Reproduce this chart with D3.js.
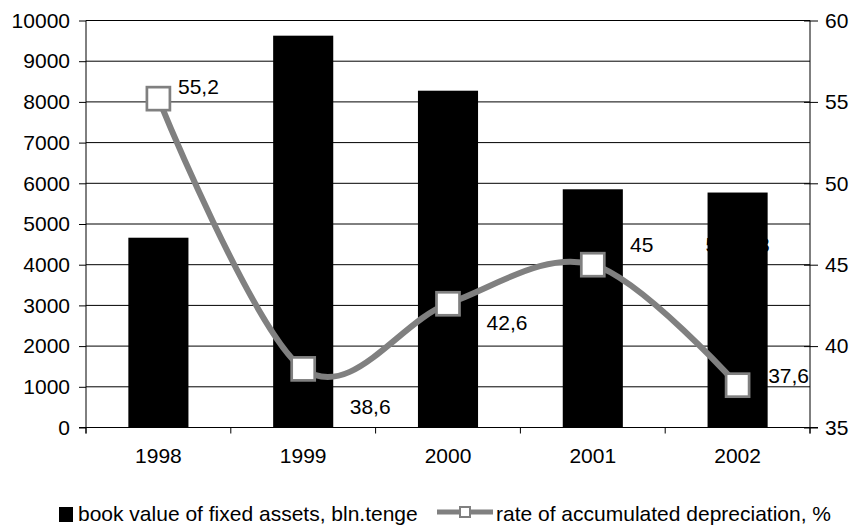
<!DOCTYPE html>
<html>
<head>
<meta charset="utf-8">
<script src="https://cdn.jsdelivr.net/npm/d3@7"></script>
<style>
  html, body { margin: 0; padding: 0; background: #fff; }
  svg text { font-family: "Liberation Sans", Arial, sans-serif; font-size: 21px; fill: #000; }
</style>
</head>
<body>
<svg id="chart" width="852" height="528"></svg>
<script>
// data
const years = ["1998", "1999", "2000", "2001", "2002"];
const bookValue = [4663, 9627, 8275, 5853, 5773];
const deprecRate = [55.2, 38.6, 42.6, 45, 37.6];
const rateLabels = ["55,2", "38,6", "42,6", "45", "37,6"];
const leftTicks = [0, 1000, 2000, 3000, 4000, 5000, 6000, 7000, 8000, 9000, 10000];
const rightTicks = [35, 40, 45, 50, 55, 60];
const hiddenBarLabel = "5773,3"; // black on black over the 2002 bar

// label offsets from each marker (manually placed in the original)
const labelOffsets = [[40, -12], [67, 38], [59, 19], [49, -20], [51, -10]];

const svg = d3.select("#chart");
const plotLeft = 86, plotRight = 810, plotTop = 20.5, plotBottom = 427.5;

const x = d3.scaleBand().domain(years).range([plotLeft, plotRight]);
const yL = d3.scaleLinear().domain([0, 10000]).range([plotBottom, plotTop]);
const yR = d3.scaleLinear().domain([35, 60]).range([plotBottom, plotTop]);
const barW = x.bandwidth() * 0.415;
const cx = d => x(d) + x.bandwidth() / 2;

// gridlines
svg.append("g")
  .selectAll("line")
  .data(leftTicks.slice(1))
  .enter()
  .append("line")
  .attr("x1", plotLeft).attr("x2", plotRight)
  .attr("y1", d => yL(d)).attr("y2", d => yL(d))
  .attr("stroke", "#000")
  .attr("stroke-width", 1);

// bars
svg.append("g")
  .selectAll("rect")
  .data(years)
  .enter()
  .append("rect")
  .attr("x", d => cx(d) - barW / 2)
  .attr("width", barW)
  .attr("y", (d, i) => yL(bookValue[i]))
  .attr("height", (d, i) => yL(0) - yL(bookValue[i]))
  .attr("fill", "#000");

// left axis
const axL = svg.append("g")
  .attr("transform", `translate(${plotLeft},0)`)
  .call(d3.axisLeft(yL).tickValues(leftTicks).tickSize(7).tickPadding(9).tickFormat(d3.format("d")));
axL.select(".domain").remove();
axL.append("line").attr("x1", 0).attr("x2", 0).attr("y1", plotTop).attr("y2", plotBottom + 6).attr("stroke", "#000");

// right axis
const axR = svg.append("g")
  .attr("transform", `translate(${plotRight},0)`)
  .call(d3.axisRight(yR).tickValues(rightTicks).tickSize(8).tickPadding(7));
axR.select(".domain").remove();
axR.selectAll(".tick line").attr("x1", -6);
axR.append("line").attr("x1", 0).attr("x2", 0).attr("y1", plotTop).attr("y2", plotBottom + 6).attr("stroke", "#000");

// bottom axis, ticks at category boundaries
const bottomG = svg.append("g");
bottomG.append("line")
  .attr("x1", plotLeft - 7).attr("x2", plotRight + 8)
  .attr("y1", plotBottom).attr("y2", plotBottom)
  .attr("stroke", "#000");
bottomG.selectAll(".bt")
  .data(years.concat(["end"]))
  .enter()
  .append("line")
  .attr("x1", (d, i) => plotLeft + i * x.bandwidth())
  .attr("x2", (d, i) => plotLeft + i * x.bandwidth())
  .attr("y1", plotBottom).attr("y2", plotBottom + 6)
  .attr("stroke", "#000");
bottomG.selectAll("text")
  .data(years)
  .enter()
  .append("text")
  .attr("x", d => cx(d))
  .attr("y", 463)
  .attr("text-anchor", "middle")
  .text(d => d);

svg.selectAll(".tick text").style("font-size", "21px").style("font-family", "Liberation Sans, Arial, sans-serif");
svg.selectAll(".tick line").attr("stroke", "#000");

// hidden bar label
svg.append("text")
  .attr("x", cx(years[4]))
  .attr("y", 252)
  .attr("text-anchor", "middle")
  .text(hiddenBarLabel);

// smoothed line
const line = d3.line()
  .x((d, i) => cx(years[i]))
  .y(d => yR(d))
  .curve(d3.curveCardinal.tension(0));

svg.append("path")
  .datum(deprecRate)
  .attr("d", line)
  .attr("fill", "none")
  .attr("stroke", "#808080")
  .attr("stroke-width", 6);

const ms = 23;
svg.append("g")
  .selectAll("rect")
  .data(deprecRate)
  .enter()
  .append("rect")
  .attr("x", (d, i) => cx(years[i]) - ms / 2)
  .attr("y", d => yR(d) - ms / 2)
  .attr("width", ms).attr("height", ms)
  .attr("fill", "#fff")
  .attr("stroke", "#808080")
  .attr("stroke-width", 2.7);

svg.append("g")
  .selectAll("text")
  .data(deprecRate)
  .enter()
  .append("text")
  .attr("x", (d, i) => cx(years[i]) + labelOffsets[i][0])
  .attr("y", (d, i) => yR(d) + labelOffsets[i][1])
  .attr("dy", "0.35em")
  .attr("text-anchor", "middle")
  .text((d, i) => rateLabels[i]);

// legend
const lg = svg.append("g");
lg.append("rect").attr("x", 59).attr("y", 507).attr("width", 14).attr("height", 15).attr("fill", "#000");
lg.append("text").attr("x", 78).attr("y", 521).text("book value of fixed assets, bln.tenge");
lg.append("line").attr("x1", 437).attr("x2", 493).attr("y1", 512).attr("y2", 512)
  .attr("stroke", "#808080").attr("stroke-width", 5);
lg.append("rect").attr("x", 460).attr("y", 507).attr("width", 10).attr("height", 10)
  .attr("fill", "#fff").attr("stroke", "#808080").attr("stroke-width", 2);
lg.append("text").attr("x", 496).attr("y", 521).text("rate of accumulated depreciation, %");
</script>
</body>
</html>
